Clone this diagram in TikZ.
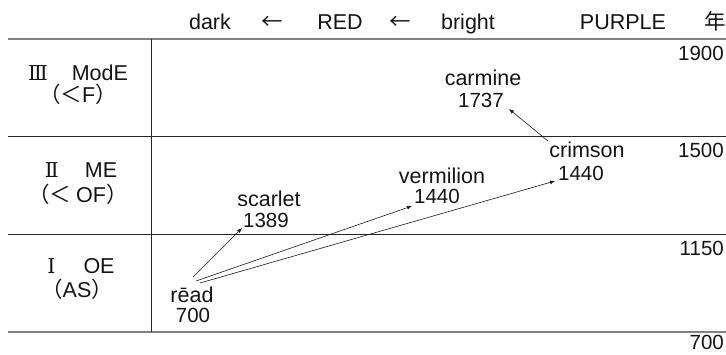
\documentclass[tikz,border=0pt]{standalone}
\usepackage{fontspec}
\setmainfont{Liberation Sans}
\newfontfamily\cjk{Noto Sans CJK JP}
\newfontfamily\rn{DejaVu Serif}
\usetikzlibrary{arrows.meta}
\tikzset{
  txt/.style={inner sep=0pt, anchor=base, font=\fontsize{21.5}{23}\selectfont, text=black!92},
  num/.style={txt, font=\fontsize{20.5}{22}\selectfont},
  rtxt/.style={num, anchor=base east},
  rule/.style={draw=black!50, line width=1.8pt},
  thinrule/.style={draw=black!85, line width=1pt},
  arr/.style={-{Latex[length=5pt,width=4pt]}, line width=0.6pt, draw=black!90}
}
\newcommand{\romnum}[1]{{\rn\fontsize{20.5}{22}\selectfont #1}}
\begin{document}
\begin{tikzpicture}[x=1pt,y=-1pt]
\useasboundingbox (0,0) rectangle (726,354);
% rules
\draw[rule] (8,39) -- (726,39);
\draw[thinrule] (8,136) -- (726,136);
\draw[thinrule] (8,234) -- (726,234);
\draw[rule] (8,332) -- (726,332);
\draw[thinrule] (151,39) -- (151,332);
% header
\node[txt] (hdark) at (210,29) {dark};
\node[txt] (harr1) at (272,29) {\cjk ←};
\node[txt] (hred) at (340,29) {RED};
\node[txt] (harr2) at (400,29) {\cjk ←};
\node[txt] (hbright) at (468,29) {bright};
\node[txt] (hpurple) at (623,29) {PURPLE};
\node[txt] (hyear) at (715,29) {\cjk 年};
% row labels
\node[txt] (r3a) at (78,80) {\romnum{Ⅲ}\hspace{24pt}ModE};
\node[txt] (r3b) at (78,102) {\cjk （＜\rmfamily F\cjk ）};
\node[txt] (r2a) at (81,177) {\romnum{Ⅱ}\hspace{26pt}ME};
\node[txt] (r2b) at (78,202) {\cjk （＜ \rmfamily OF\cjk ）};
\node[txt] (r1a) at (81,273) {\romnum{Ⅰ}\hspace{28pt}OE};
\node[txt] (r1b) at (77,297) {\cjk （\rmfamily AS\cjk ）};
% years
\node[rtxt] (y1900) at (724,60) {1900};
\node[rtxt] (y1500) at (724,157) {1500};
\node[rtxt] (y1150) at (724,255) {1150};
\node[rtxt] (y700) at (724,349) {700};
% words
\node[txt] (carmine) at (483,85) {carmine};
\node[num] (carminey) at (481,107) {1737};
\node[txt] (crimson) at (587,157) {crimson};
\node[num] (crimsony) at (581,180) {1440};
\node[txt] (vermilion) at (442,183) {vermilion};
\node[num] (vermiliony) at (437,203) {1440};
\node[txt] (scarlet) at (269,206) {scarlet};
\node[num] (scarlety) at (266,227) {1389};
\node[txt] (read) at (192,302) {rēad};
\node[num] (ready) at (193,322) {700};
% arrow endpoints
\coordinate (rs) at (193,277);
\coordinate (rv) at (196,281);
\coordinate (rc) at (200,283);
\coordinate (cs) at (548,141);
\coordinate (se) at (242,228);
\coordinate (ve) at (412,206);
\coordinate (ce) at (555,181);
\coordinate (ca) at (509,109);
\draw[arr] (rs) -- (se);
\draw[arr] (rv) -- (ve);
\draw[arr] (rc) -- (ce);
\draw[arr] (cs) -- (ca);
\end{tikzpicture}
\end{document}
